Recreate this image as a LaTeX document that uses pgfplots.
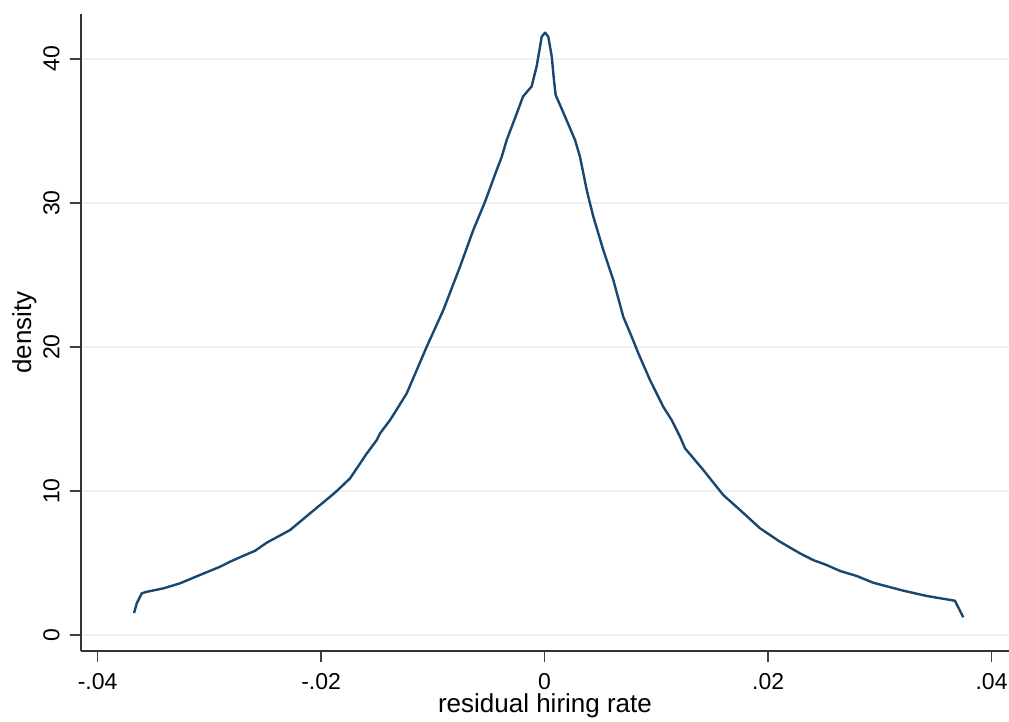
\documentclass[border=0pt]{standalone}
\usepackage{pgfplots}
\pgfplotsset{compat=1.18}
\usepackage{fontspec}
\setmainfont{Liberation Sans}
\definecolor{stnavy}{RGB}{26,71,111}
\definecolor{gridc}{RGB}{234,242,243}
\newcommand{\tickfont}{\fontsize{11.5bp}{13bp}\selectfont}
\newcommand{\labfont}{\fontsize{13bp}{15bp}\selectfont}
\begin{document}
\begin{tikzpicture}
\begin{axis}[
  scale only axis,
  width=464bp, height=318.5bp,
  xmin=-0.04149, xmax=0.04156,
  ymin=-1.11, ymax=43.125,
  axis x line*=bottom, axis y line*=left,
  axis line style={-, draw=black!80, line width=0.8bp},
  tick style={draw=black!75, line width=0.8bp},
  major tick length=5.5bp,
  tick align=outside,
  scaled x ticks=false,
  xtick={-0.04,-0.02,0,0.02,0.04},
  xticklabels={-.04,-.02,0,.02,.04},
  ytick={0,10,20,30,40},
  /pgf/number format/assume math mode=true,
  ticklabel style={font=\tickfont},
  yticklabel style={rotate=90, anchor=south, inner sep=0pt, yshift=5bp},
  xticklabel style={anchor=north, inner sep=0pt, yshift=-5.5bp},
  ymajorgrids,
  major grid style={draw=gridc, line width=0.8bp},
  xlabel={residual hiring rate},
  ylabel={density},
  xlabel style={at={(axis description cs:0.5,0)}, anchor=north, inner sep=0pt, yshift=-21bp, font=\labfont},
  ylabel style={at={(axis description cs:0,0.5)}, rotate=0, anchor=north, inner sep=0pt, yshift=34.5bp, font=\labfont},
  clip=false,
]
\addplot[stnavy, line width=1.2bp, line join=round] coordinates {
(-0.03674,1.53) (-0.0365,2.2) (-0.03605,2.9) (-0.0356,3.0) (-0.03412,3.24)
(-0.03263,3.59) (-0.03084,4.17) (-0.02905,4.74) (-0.02815,5.09) (-0.02726,5.40)
(-0.02591,5.85) (-0.02487,6.41) (-0.02278,7.29) (-0.02099,8.45) (-0.0192,9.6)
(-0.0186,10.0) (-0.01741,10.88) (-0.01592,12.6) (-0.01502,13.54) (-0.01473,14.0)
(-0.01383,14.93) (-0.01354,15.28) (-0.01234,16.78) (-0.01055,20.02) (-0.00906,22.57)
(-0.00757,25.58) (-0.00638,28.13) (-0.00533,30.09) (-0.00429,32.29) (-0.00384,33.2)
(-0.00339,34.38) (-0.0025,36.2) (-0.00193,37.4) (-0.00116,38.1) (-0.00071,39.5)
(-0.00041,40.85) (-0.00026,41.55) (0.00004,41.83) (0.00033,41.55) (0.00064,40.16)
(0.00084,38.5) (0.00099,37.5) (0.00183,36.0) (0.00272,34.38) (0.00317,33.2)
(0.00377,30.9) (0.00406,29.98) (0.00436,29.05) (0.00525,26.74) (0.00615,24.65)
(0.00704,22.1) (0.00779,20.72) (0.00839,19.56) (0.00943,17.71) (0.01062,15.85)
(0.01137,14.93) (0.01212,13.77) (0.01256,12.97) (0.0142,11.46) (0.01599,9.72)
(0.01749,8.68) (0.01928,7.41) (0.02106,6.48) (0.02285,5.67) (0.02405,5.2)
(0.02524,4.86) (0.02643,4.45) (0.02793,4.10) (0.02941,3.63) (0.0321,3.08)
(0.0342,2.71) (0.03672,2.38) (0.03747,1.23)
};
\end{axis}
\pgfresetboundingbox
\path ([xshift=-40.5bp,yshift=-35.5bp]current axis.south west) rectangle ([yshift=7bp]current axis.north east);
\end{tikzpicture}
\end{document}
